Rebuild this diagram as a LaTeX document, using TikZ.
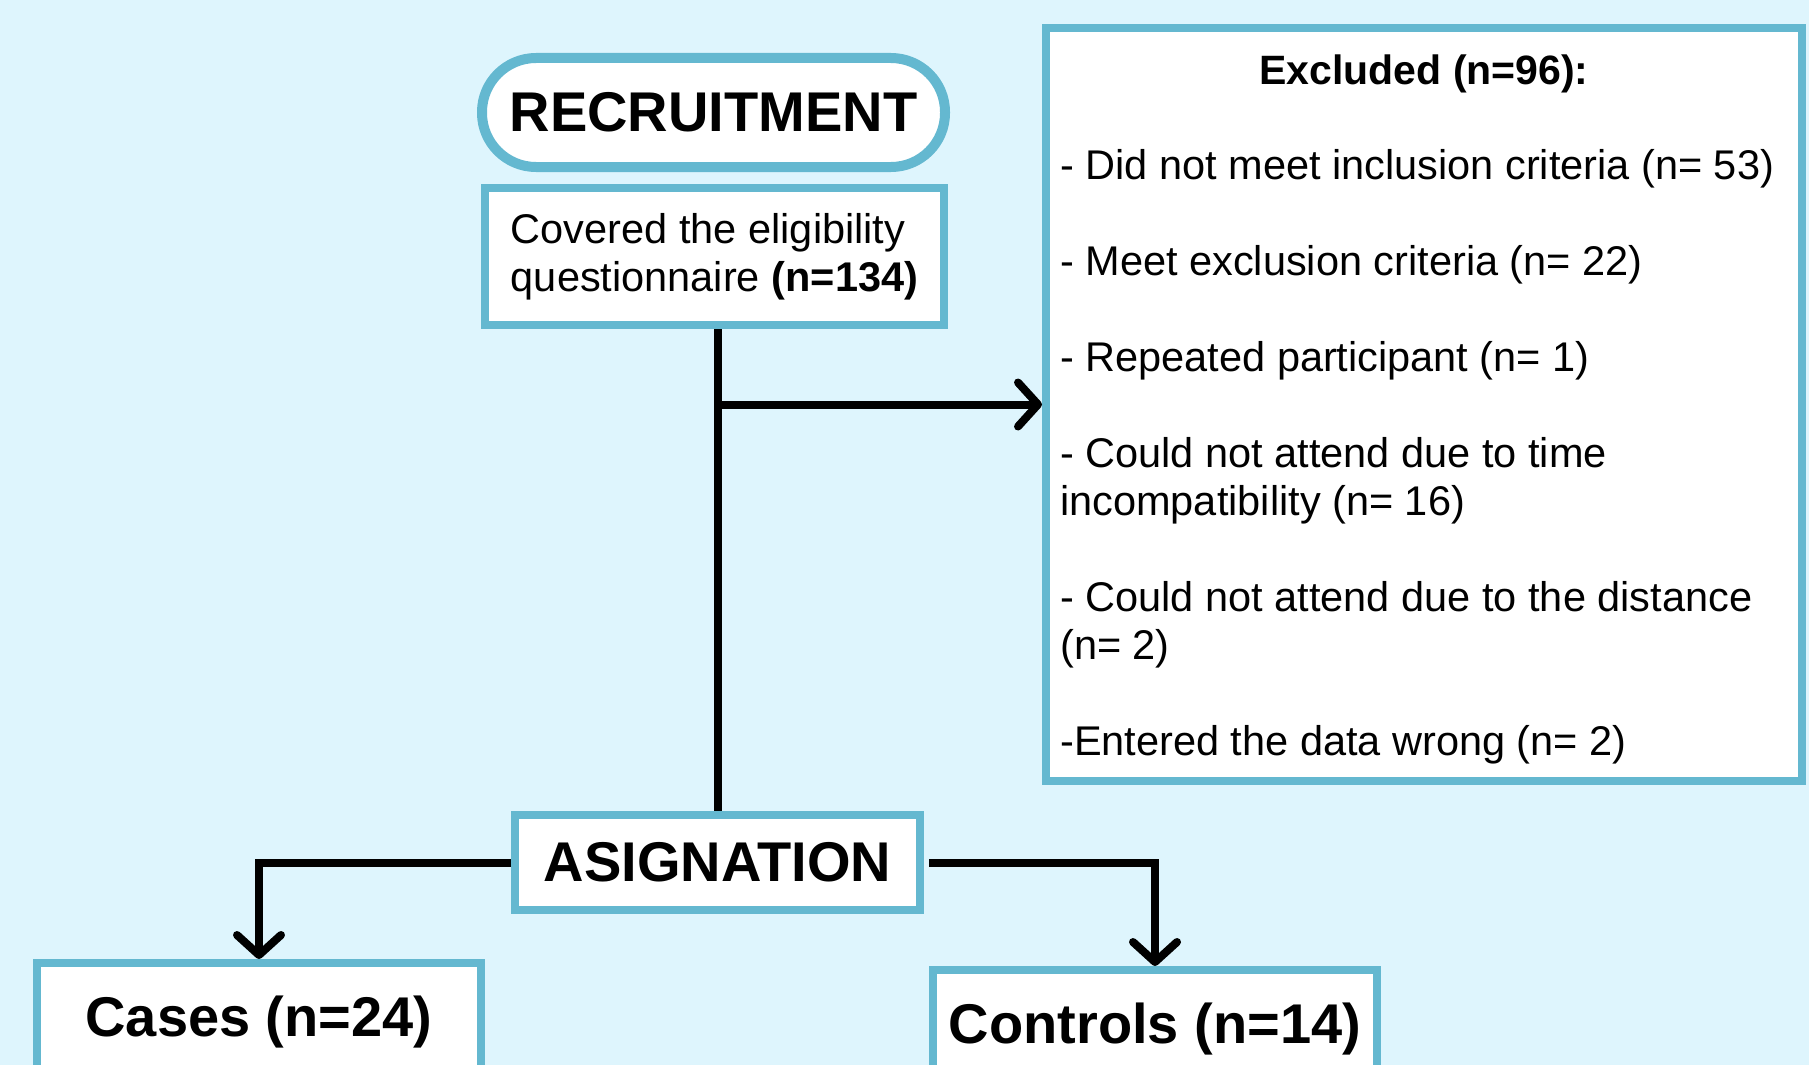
\documentclass[tikz,border=0pt]{standalone}
\usepackage{fontspec}
\setmainfont{Liberation Sans}
\usetikzlibrary{arrows.meta,calc}
\definecolor{bgc}{RGB}{222,245,253}
\definecolor{bdc}{RGB}{100,184,208}
\tikzset{
  box/.style={draw=bdc, fill=white, line width=8pt, rectangle, inner sep=0pt},
  head/.style={font=\fontsize{56}{60}\selectfont\bfseries},
  body/.style={font=\fontsize{41.5}{48}\selectfont},
  conn/.style={line width=8pt, black},
  tip/.style={-{Straight Barb[length=20pt,width=44pt,round]}},
}
\begin{document}
\begin{tikzpicture}[x=1pt,y=-1pt]
\useasboundingbox (0,0) rectangle (1809,1065);
\clip (0,0) rectangle (1809,1065);
\fill[bgc] (0,0) rectangle (1809,1065);

\node[box, line width=10pt, rounded corners=54pt, minimum width=463pt, minimum height=109pt, head]
  (rec) at (713.5,112.5) {RECRUITMENT};
\node[box, minimum width=459pt, minimum height=137pt, body, align=left]
  (cov) at (714.5,256.5) {\raisebox{-3pt}{Covered the eligibility}\\\raisebox{-3pt}{questionnaire \textbf{(n=134)}}};
\node[box, minimum width=756pt, minimum height=753pt] (exc) at (1424,404.5) {};
\node[font=\fontsize{41}{48}\selectfont\bfseries] (exct) at (1424,74) {Excluded (n=96):};
\node[body, anchor=north west, align=left, inner sep=0pt] (excl) at (1060,149)
  {- Did not meet inclusion criteria (n= 53)\\[48pt]
   - Meet exclusion criteria (n= 22)\\[48pt]
   - Repeated participant (n= 1)\\[48pt]
   - Could not attend due to time\\
   incompatibility (n= 16)\\[48pt]
   - Could not attend due to the distance\\
   (n= 2)\\[48pt]
   -Entered the data wrong (n= 2)};
\node[box, minimum width=405pt, minimum height=95pt, head] (asg) at (717.5,862.5) {ASIGNATION};
\node[box, minimum width=444pt, minimum height=118pt, head] (cases) at (259,1022) {Cases (n=24)};
\node[box, minimum width=444pt, minimum height=118pt, head] (ctrl) at (1155,1029) {Controls (n=14)};

\draw[conn] (cov.south -| asg.north) -- (asg.north);
\draw[conn, tip] (exc.west -| asg.north) -- (exc.west);
\draw[conn, tip] (asg.west) -| (cases.north);
\draw[conn, tip] ([xshift=5pt]asg.east) -| (ctrl.north);
\end{tikzpicture}
\end{document}
